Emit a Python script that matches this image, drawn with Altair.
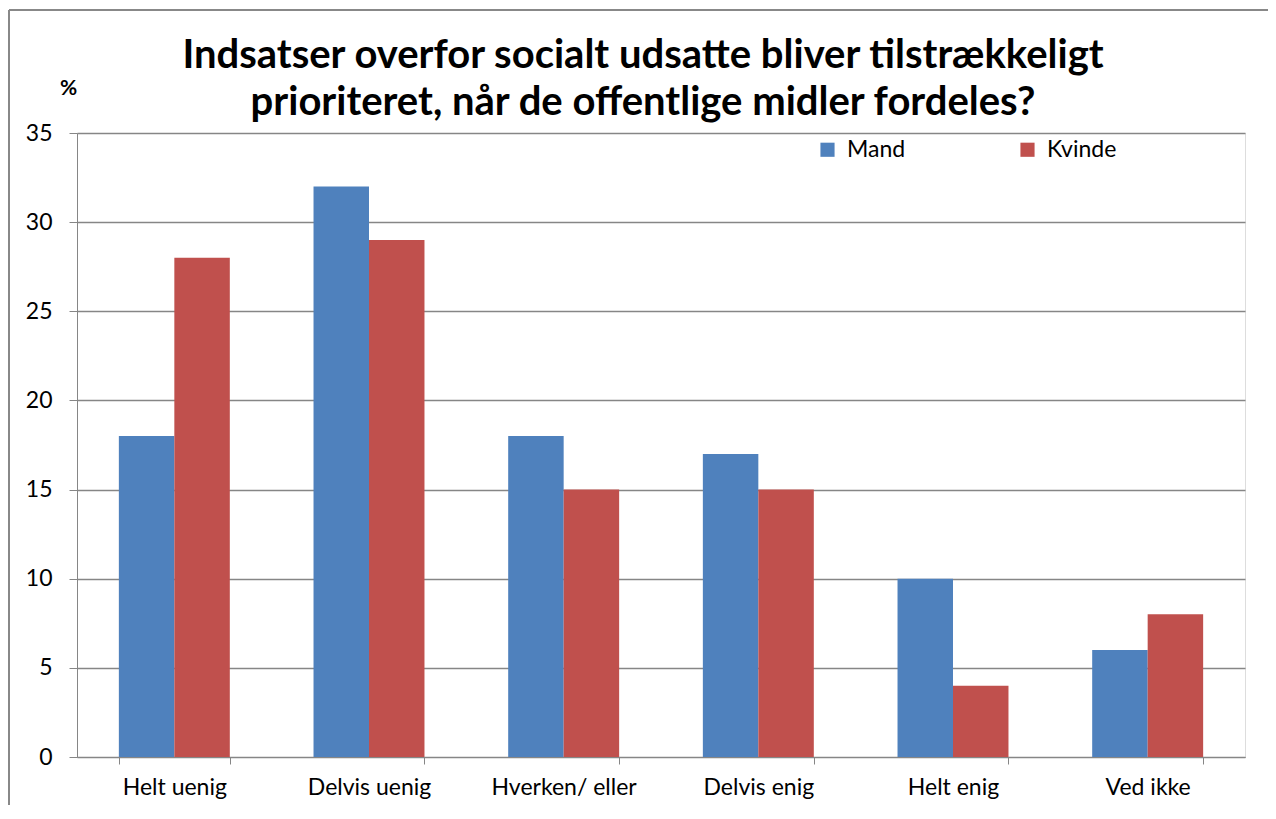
import altair as alt
import pandas as pd

categories = ["Helt uenig", "Delvis uenig", "Hverken/ eller", "Delvis enig", "Helt enig", "Ved ikke"]
mand = [18, 32, 18, 17, 10, 6]
kvinde = [28, 29, 15, 15, 4, 8]
series = ["Mand", "Kvinde"]
colors = ["#4F81BD", "#C0504D"]
title_lines = ["Indsatser overfor socialt udsatte bliver tilstrækkeligt",
               "prioriteret, når de offentlige midler fordeles?"]

rows = []
for c, m, k in zip(categories, mand, kvinde):
    rows.append({"cat": c, "serie": "Mand", "val": m})
    rows.append({"cat": c, "serie": "Kvinde", "val": k})
df = pd.DataFrame(rows)

FONT = "Lato"
W, H = 1168, 624
PAD = {"left": 69, "top": 125, "right": 23, "bottom": 48}

bars = alt.Chart(df).mark_bar().encode(
    x=alt.X("cat:N", sort=categories,
            scale=alt.Scale(paddingInner=0.43, paddingOuter=0.215),
            axis=alt.Axis(title=None, labelAngle=0, tickBand="extent", tickSize=7,
                          labelFontSize=23, labelPadding=12, labelColor="#000000",
                          domainColor="#868686", tickColor="#868686", grid=False,
                          labelFont=FONT)),
    xOffset=alt.XOffset("serie:N", sort=series, scale=alt.Scale(paddingInner=0, paddingOuter=0)),
    y=alt.Y("val:Q", scale=alt.Scale(domain=[0, 35], nice=False),
            axis=alt.Axis(values=[0, 5, 10, 15, 20, 25, 30, 35], title="%",
                          titleAngle=0, titleFont=FONT, titleFontSize=21, titleFontWeight="bold",
                          titleX=-9, titleY=-45, titleAlign="center", titleBaseline="middle",
                          labelFontSize=23, labelPadding=17, labelColor="#000000", labelFont=FONT,
                          tickSize=8, tickColor="#868686", domainColor="#868686",
                          gridColor="#868686", gridWidth=1.3)),
    color=alt.Color("serie:N", sort=series, scale=alt.Scale(domain=series, range=colors),
                    legend=alt.Legend(title=None, orient="none", legendX=739, legendY=5,
                                      direction="horizontal", columns=2, columnPadding=110,
                                      symbolType="square", symbolSize=200, symbolStrokeWidth=0,
                                      labelFont=FONT, labelFontSize=23, labelColor="#000000",
                                      labelOffset=8)),
)

one = pd.DataFrame({"k": [0]})
top_line = alt.Chart(one).mark_rule(color="#888888", strokeWidth=2, clip=False).encode(
    x=alt.value(-68), x2=alt.value(W + PAD["right"]), y=alt.value(-123)
)
left_line = alt.Chart(one).mark_rule(color="#888888", strokeWidth=2, clip=False).encode(
    x=alt.value(-68), y=alt.value(-123), y2=alt.value(H + PAD["bottom"])
)

chart = alt.layer(bars, top_line, left_line).properties(
    width=W, height=H,
    title=alt.TitleParams(text=title_lines, font=FONT, fontSize=40, fontWeight="bold",
                          color="#000000", anchor="middle", offset=-114, lineHeight=47, dx=-18),
    autosize=alt.AutoSizeParams(type="none"),
    padding=PAD,
).configure_view(stroke=None).configure(background="white")

chart.save("out.html", embed_options={"renderer": "svg", "actions": False})
